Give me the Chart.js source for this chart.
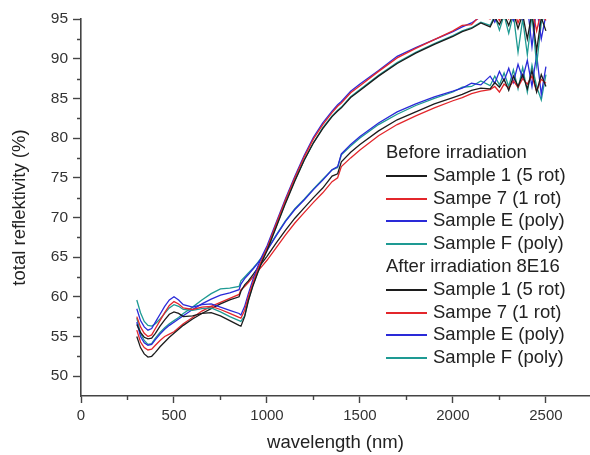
<!DOCTYPE html>
<html>
<head>
<meta charset="utf-8">
<script src="https://cdn.jsdelivr.net/npm/chart.js@4/dist/chart.umd.min.js"></script>
<style>
  html, body { margin: 0; padding: 0; background: #fff; }
  #wrap { position: relative; width: 590px; height: 455px; overflow: hidden; }
  #legend { position: absolute; left: 0; top: 0; font-family: "Liberation Sans", Arial, sans-serif; font-size: 18.5px; color: #222; }
  #legend .row { position: absolute; white-space: nowrap; line-height: 22px; height: 22px; }
  #legend .sw { position: absolute; width: 41px; height: 2px; }
</style>
</head>
<body>
<div id="wrap">
  <canvas id="c" width="590" height="455"></canvas>
  <div id="legend"></div>
</div>
<script>
// ---------------- data ----------------
const wavelength = [300,320,340,360,380,400,425,450,475,500,525,550,600,650,700,750,800,850,860,
  880,900,925,950,975,1000,1050,1100,1150,1200,1250,1300,1350,
  1380,1400,1450,1500,1600,1700,1800,1900,2000,2050,2100,2150,2200,
  2225,2250,2275,2300,2325,2350,2375,2400,2425,2450,2475,2500];

// Before irradiation
const beforeSample1 = [56.5,55.5,54.9,54.7,54.8,55.4,56.3,57.1,57.8,58.1,57.9,57.5,57.6,57.9,58.0,57.6,57.0,56.4,56.3,
  57.5,59.5,61.4,63.0,64.5,65.8,68.8,71.8,74.6,77.2,79.4,81.2,82.7,
  83.4,83.8,85.1,86.0,87.8,89.4,90.7,91.8,92.8,93.4,93.8,94.5,94.0,
  95.2,94.3,95.6,94.2,95.8,93.8,95.6,92.5,95.8,91.0,95.2,93.5];
const beforeSample7 = [57.5,56.2,55.4,55.0,55.2,56.0,57.0,58.0,58.9,59.4,59.1,58.6,58.4,58.7,58.8,58.4,57.9,57.4,57.3,
  58.3,60.0,61.8,63.4,64.8,66.1,69.2,72.2,75.0,77.6,79.9,81.7,83.2,
  84.0,84.4,85.7,86.6,88.4,90.1,91.3,92.4,93.5,94.2,94.3,95.5,95.0,
  96.0,94.8,96.2,95.0,96.4,94.5,96.0,95.2,96.5,93.5,96.0,94.8];
const beforeSampleE = [58.5,57.0,56.2,55.8,56.0,56.8,57.8,58.8,59.6,60.0,59.6,59.0,58.7,59.0,59.1,58.7,58.3,57.9,57.7,
  58.8,60.4,62.2,63.8,65.2,66.4,69.4,72.4,75.2,77.8,80.1,81.9,83.4,
  84.2,84.6,85.9,86.8,88.5,90.3,91.4,92.4,93.4,94.0,94.5,95.3,95.8,
  94.6,96.0,95.2,96.3,94.8,96.5,95.0,96.8,91.5,96.5,92.5,95.5];
const beforeSampleF = [59.6,58.0,56.9,56.4,56.3,56.6,57.2,57.9,58.6,59.0,58.8,58.4,58.3,58.5,58.6,58.1,57.5,57.0,56.9,
  57.6,59.6,61.5,63.1,64.6,65.9,68.9,71.9,74.7,77.2,79.4,81.3,82.8,
  83.5,83.9,85.2,86.1,87.9,89.5,90.8,91.9,92.9,93.5,93.9,94.6,94.2,
  95.4,93.6,95.5,93.2,95.6,90.8,95.0,90.5,95.5,89.2,94.5,96.0];

// After irradiation 8E16
const afterSample1 = [55.0,53.6,52.8,52.4,52.5,53.0,53.7,54.3,54.9,55.4,55.9,56.4,57.2,57.9,58.5,59.1,59.6,60.0,60.7,
  61.5,62.0,62.8,63.6,64.3,65.1,66.8,68.4,69.9,71.2,72.5,73.7,75.2,
  75.5,77.0,78.2,79.2,80.9,82.3,83.3,84.3,85.1,85.5,86.0,86.3,86.2,
  87.0,86.4,87.4,86.0,87.8,86.5,88.0,86.2,88.5,85.8,88.0,86.5];
const afterSample7 = [55.8,54.3,53.6,53.3,53.4,53.9,54.5,55.0,55.3,55.6,56.1,56.6,57.4,58.2,58.8,59.3,59.8,60.3,60.9,
  61.3,61.8,62.5,63.2,63.9,64.6,66.2,67.8,69.3,70.6,71.9,73.1,74.5,
  75.0,76.4,77.5,78.5,80.3,81.7,82.8,83.8,84.7,85.1,85.6,85.9,86.1,
  86.5,85.8,86.8,86.3,87.2,86.4,87.5,86.8,87.8,85.9,87.4,86.9];
const afterSampleE = [56.8,55.0,54.2,53.9,54.0,54.6,55.3,55.9,56.4,56.8,57.2,57.6,58.4,59.1,59.7,60.2,60.5,60.9,61.6,
  62.3,62.8,63.5,64.2,65.0,65.8,67.7,69.5,71.0,72.2,73.5,74.7,76.0,
  76.4,78.0,79.2,80.2,81.9,83.3,84.3,85.2,85.9,86.3,86.9,86.7,87.8,
  86.9,88.4,87.2,88.8,87.0,89.3,87.5,89.8,86.5,90.5,85.5,89.0];
const afterSampleF = [57.3,55.4,54.5,54.0,54.1,54.8,55.5,56.1,56.6,57.0,57.4,57.9,58.7,59.6,60.4,61.0,61.1,61.3,62.0,
  62.5,63.0,63.6,64.3,65.1,65.9,67.8,69.6,71.1,72.3,73.6,74.8,76.0,
  76.3,77.9,79.0,80.0,81.7,83.0,84.1,85.0,85.8,86.4,86.5,87.2,86.6,
  87.8,86.7,88.2,86.5,88.6,86.2,88.9,85.8,89.2,86.5,84.8,88.0];

const sampleNames = ["Sample 1 (5 rot)", "Sampe 7 (1 rot)", "Sample E (poly)", "Sample F (poly)"];
const groupTitles = ["Before irradiation", "After irradiation 8E16"];
const xTickValues = [0, 500, 1000, 1500, 2000, 2500];
const xMinorValues = [250, 750, 1250, 1750, 2250];
const yTickValues = [50, 55, 60, 65, 70, 75, 80, 85, 90, 95];
const yMinorValues = [52.5, 57.5, 62.5, 67.5, 72.5, 77.5, 82.5, 87.5, 92.5];
const xTitle = "wavelength (nm)";
const yTitle = "total reflektivity (%)";

// ---------------- styling ----------------
const colors = ["#1c1c1c", "#e3262b", "#2a2ad8", "#1e9a93"];
const AXIS = "#444";
const FONT = "'Liberation Sans', Arial, sans-serif";

const groups = [
  [beforeSample1, beforeSample7, beforeSampleE, beforeSampleF],
  [afterSample1, afterSample7, afterSampleE, afterSampleF]
];

const datasets = [];
groups.forEach((g, gi) => {
  g.forEach((arr, si) => {
    datasets.push({
      label: groupTitles[gi] + " - " + sampleNames[si],
      data: wavelength.map((x, i) => ({ x: x, y: arr[i] })),
      borderColor: colors[si],
      backgroundColor: colors[si],
      borderWidth: 1.3,
      pointRadius: 0,
      tension: 0,
      fill: false
    });
  });
});

const minorTicks = {
  id: 'minorTicks',
  afterDraw(chart) {
    const ctx = chart.ctx, xs = chart.scales.x, ys = chart.scales.y;
    const a = chart.chartArea;
    ctx.save();
    ctx.strokeStyle = AXIS;
    ctx.lineWidth = 1.4;
    ctx.beginPath();
    xMinorValues.forEach(v => {
      const p = Math.round(xs.getPixelForValue(v)) + 0.5;
      ctx.moveTo(p, a.bottom); ctx.lineTo(p, a.bottom + 4);
    });
    yMinorValues.forEach(v => {
      const p = Math.round(ys.getPixelForValue(v)) + 0.5;
      ctx.moveTo(a.left - 4, p); ctx.lineTo(a.left, p);
    });
    ctx.stroke();
    ctx.restore();
  }
};

new Chart(document.getElementById('c'), {
  type: 'line',
  data: { datasets: datasets },
  plugins: [minorTicks],
  options: {
    responsive: false,
    animation: false,
    devicePixelRatio: 1,
    layout: { padding: { left: 0, right: 0, top: 19, bottom: 0 } },
    plugins: { legend: { display: false }, tooltip: { enabled: false } },
    scales: {
      x: {
        type: 'linear', min: 0, max: 2737,
        afterBuildTicks: s => { s.ticks = xTickValues.map(v => ({ value: v })); },
        afterFit: s => { s.height = 59; },
        border: { display: true, color: AXIS, width: 1.6 },
        grid: { display: true, drawOnChartArea: false, drawTicks: true, tickLength: 7, tickColor: AXIS, tickWidth: 1.4 },
        ticks: { color: '#333', font: { family: FONT, size: 15 }, padding: 4, maxRotation: 0, callback: v => String(v) },
        title: { display: true, text: xTitle, color: '#222', font: { family: FONT, size: 18.5 }, padding: { top: 0, bottom: 1 } }
      },
      y: {
        type: 'linear', min: 47.5, max: 95,
        afterBuildTicks: s => { s.ticks = yTickValues.map(v => ({ value: v })); },
        afterFit: s => { s.width = 81; },
        border: { display: true, color: AXIS, width: 1.6 },
        grid: { display: true, drawOnChartArea: false, drawTicks: true, tickLength: 8, tickColor: AXIS, tickWidth: 1.4 },
        ticks: { color: '#333', font: { family: FONT, size: 15.5 }, padding: 5, callback: v => String(v) },
        title: { display: true, text: yTitle, color: '#222', font: { family: FONT, size: 18.5 }, padding: { top: 9, bottom: 0 } }
      }
    }
  }
});

// ---------------- legend (HTML text) ----------------
const legend = document.getElementById('legend');
const rowTop = 141, rowStep = 22.8, legLeft = 386, textLeft = 433;
let r = 0;
groupTitles.forEach((t, gi) => {
  const h = document.createElement('div');
  h.className = 'row';
  h.style.left = legLeft + 'px';
  h.style.top = Math.round(rowTop + r * rowStep) + 'px';
  h.textContent = t;
  legend.appendChild(h);
  r++;
  sampleNames.forEach((n, si) => {
    const top = Math.round(rowTop + r * rowStep);
    const sw = document.createElement('div');
    sw.className = 'sw';
    sw.style.left = legLeft + 'px';
    sw.style.top = (top + 11) + 'px';
    sw.style.background = colors[si];
    legend.appendChild(sw);
    const tx = document.createElement('div');
    tx.className = 'row';
    tx.style.left = textLeft + 'px';
    tx.style.top = top + 'px';
    tx.textContent = n;
    legend.appendChild(tx);
    r++;
  });
});
</script>
</body>
</html>
